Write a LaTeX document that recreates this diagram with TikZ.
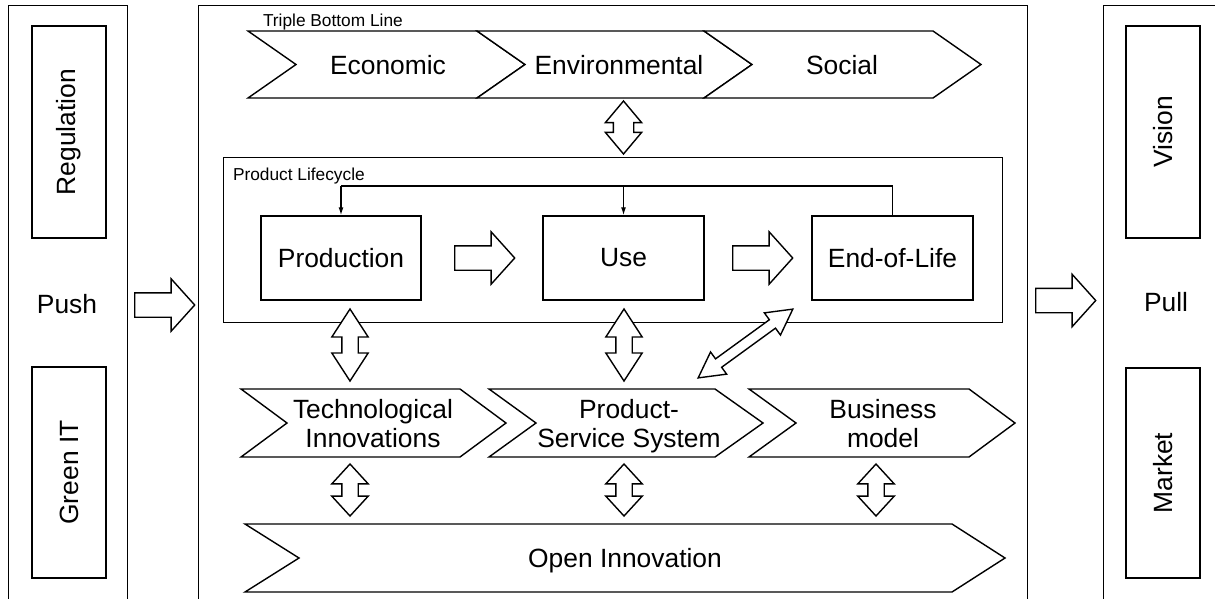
\documentclass[tikz,border=0pt]{standalone}
\usepackage{fontspec}
\setmainfont{Liberation Sans}
\usetikzlibrary{shapes.arrows,arrows.meta,calc}
\begin{document}
\begin{tikzpicture}[x=1pt,y=-1pt,line width=1.4pt,line join=miter,
  box/.style={draw,fill=white,inner sep=0pt},
  big/.style={font=\fontsize{26.4}{29}\selectfont},
  small/.style={font=\fontsize{17.3}{20}\selectfont},
  chev/.style={draw,fill=white},
  blockarrow/.style={draw,fill=white,single arrow,inner xsep=0pt,inner ysep=11.5pt,minimum height=60pt,single arrow head extend=14pt,single arrow tip angle=96,anchor=tail},
  updown/.style={draw,fill=white,double arrow,inner xsep=0pt,rotate=90},
  fb/.style={line width=1.3pt},
  fbtip/.style={-{Latex[length=8pt,width=5pt]}}
]
\useasboundingbox (0,0) rectangle (1215,598);
\clip (0,0) rectangle (1215,598);

% outer columns
\node[box,anchor=north west,minimum width=119pt,minimum height=640pt] (leftcol) at (8,5) {};
\node[box,anchor=north west,minimum width=829pt,minimum height=640pt] (main) at (198,5) {};
\node[box,anchor=north west,minimum width=130pt,minimum height=640pt] (rightcol) at (1103,5) {};

% left column
\node[box,big,rotate=90,minimum width=212pt,minimum height=74pt] (reg) at (69,132) {Regulation};
\node[box,big,rotate=90,minimum width=211pt,minimum height=74pt] (green) at (69,472.5) {Green IT};
\node[big,anchor=base] (push) at (67,313) {Push};
\node[blockarrow] (pusharrow) at (134,305) {};

% right column
\node[box,big,rotate=90,minimum width=212pt,minimum height=74pt] (vision) at (1163,132) {Vision};
\node[box,big,rotate=90,minimum width=210pt,minimum height=74pt] (market) at (1163,473) {Market};
\node[big,anchor=base] (pull) at (1166,311) {Pull};
\node[blockarrow] (pullarrow) at (1035,300.5) {};

% triple bottom line
\node[small,anchor=base west] (tbl) at (259,26) {Triple Bottom Line};
\draw[chev] (248,31) -- (477,31) -- (525,64.5) -- (477,98) -- (248,98) -- (296,64.5) -- cycle;
\draw[chev] (477,31) -- (704,31) -- (752,64.5) -- (704,98) -- (477,98) -- (525,64.5) -- cycle;
\draw[chev] (704,31) -- (933,31) -- (981,64.5) -- (933,98) -- (704,98) -- (752,64.5) -- cycle;
\node[big,anchor=base] (econ) at (388,74) {Economic};
\node[big,anchor=base] (env) at (619,74) {Environmental};
\node[big,anchor=base] (soc) at (842,74) {Social};

\node[updown,inner ysep=9.5pt,minimum height=53pt,double arrow head extend=8pt,double arrow tip angle=80] (a1) at (623.5,127.5) {};

% product lifecycle
\node[box,fill=none,anchor=north west,minimum width=779pt,minimum height=165pt] (pl) at (223,157) {};
\node[small,anchor=base west] (pllabel) at (229,180) {Product Lifecycle};
\node[box,big,minimum width=160pt,minimum height=84pt] (prod) at (341,258) {Production};
\node[box,big,minimum width=161pt,minimum height=84pt] (use) at (623.5,258) {Use};
\node[box,big,minimum width=161pt,minimum height=84pt] (eol) at (892.5,258) {End-of-Life};
\node[blockarrow] (pu) at (454,258) {};
\node[blockarrow] (ue) at (732,258) {};
\coordinate (fbline) at (0,186);
\draw[fb] (eol.north) -- (eol.north |- fbline) -- (prod.north |- fbline);
\draw[fb,fbtip] (prod.north |- fbline) -- (prod.north);
\draw[fb,fbtip] (use.north |- fbline) -- (use.north);

% links
\node[updown,inner ysep=7.5pt,minimum height=72pt,double arrow head extend=10pt,double arrow tip angle=66] (a2) at (350,345) {};
\node[updown,inner ysep=7.5pt,minimum height=72pt,double arrow head extend=10pt,double arrow tip angle=66] (a3) at (624,345) {};
\node[draw,fill=white,double arrow,inner xsep=0pt,inner ysep=4.5pt,rotate=36,minimum height=117pt,double arrow head extend=8.5pt,double arrow tip angle=57] (a4) at (745.5,343.5) {};

% middle row
\draw[chev] (241,389) -- (460,389) -- (506,423) -- (460,457) -- (241,457) -- (287,423) -- cycle;
\draw[chev] (489,389) -- (715,389) -- (763,423) -- (715,457) -- (489,457) -- (536,423) -- cycle;
\draw[chev] (749,389) -- (969,389) -- (1015,423) -- (969,457) -- (749,457) -- (796,423) -- cycle;
\node[big,anchor=base] (tech) at (373,418) {Technological};
\node[big,anchor=base] (tech2) at (373,447) {Innovations};
\node[big,anchor=base] (pss) at (629,418) {Product-};
\node[big,anchor=base] (pss2) at (629,447) {Service System};
\node[big,anchor=base] (bm) at (883,418) {Business};
\node[big,anchor=base] (bm2) at (883,447) {model};

\node[updown,inner ysep=7.5pt,minimum height=52pt,double arrow head extend=10pt,double arrow tip angle=85] (b1) at (350,490) {};
\node[updown,inner ysep=7.5pt,minimum height=52pt,double arrow head extend=10pt,double arrow tip angle=85] (b2) at (624,490) {};
\node[updown,inner ysep=7.5pt,minimum height=52pt,double arrow head extend=10pt,double arrow tip angle=85] (b3) at (876,490) {};

% open innovation
\draw[chev] (245,524) -- (952,524) -- (1005,558) -- (952,592) -- (245,592) -- (299,558) -- cycle;
\node[big,anchor=base] (oi) at (625,567) {Open Innovation};
\end{tikzpicture}
\end{document}
